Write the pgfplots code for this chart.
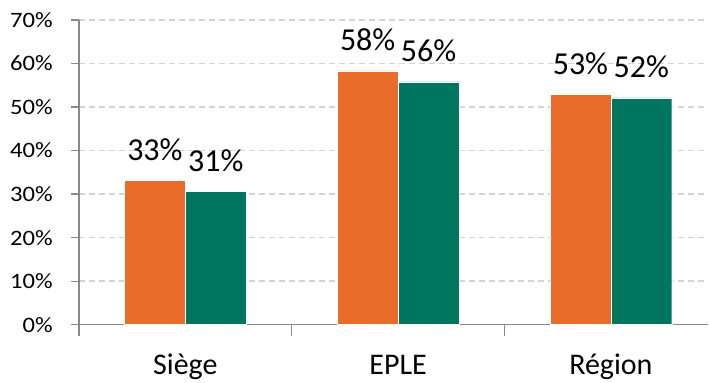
\documentclass[border=0pt]{standalone}
\usepackage{pgfplots}
\pgfplotsset{compat=1.18}
\usepackage{fontspec}
\setmainfont{Carlito}
\definecolor{barorange}{RGB}{234,108,43}
\definecolor{bargreen}{RGB}{0,117,96}
\definecolor{axisgray}{RGB}{137,137,137}
\definecolor{gridgray}{RGB}{212,212,212}
\begin{document}
\begin{tikzpicture}
\path (0,0) rectangle (709pt,383pt);
\begin{axis}[
  at={(79pt,58pt)}, anchor=south west,
  scale only axis, width=630pt, height=305pt,
  xmin=-0.5, xmax=2.458, ymin=0, ymax=70,
  axis lines=left,
  axis line style={-, draw=axisgray, line width=1.3pt},
  clip=false,
  ytick={0,10,20,30,40,50,60,70},
  yticklabels={0\%,10\%,20\%,30\%,40\%,50\%,60\%,70\%},
  yticklabel style={font=\fontsize{22}{26}\selectfont, anchor=east, inner sep=0pt, xshift=-18pt, xscale=1.12},
  ymajorgrids,
  grid style={dash pattern=on 6pt off 4pt, draw=gridgray, line width=1.4pt},
  tick align=outside,
  major tick length=8pt,
  minor tick length=11pt,
  ytick style={draw=axisgray, line width=1.3pt},
  xtick={0,1,2},
  xticklabels={Siège,EPLE,Région},
  xtick style={draw=none},
  minor xtick={-0.5,0.5,1.5},
  minor x tick style={draw=axisgray, line width=1.3pt},
  xticklabel style={font=\fontsize{30}{36}\selectfont, anchor=base, inner sep=0pt, yshift=-42pt},
  ybar, bar width=0.286,
  point meta=explicit symbolic,
  nodes near coords,
  every node near coord/.append style={font=\fontsize{32}{38}\selectfont, anchor=base, inner sep=0pt, yshift=20pt, text=black},
]
\addplot[fill=barorange, draw=white, line width=0.4pt, bar shift=-0.143]
  coordinates {(0,33.1) [33\%] (1,58.3) [58\%] (2,52.9) [53\%]};
\addplot[fill=bargreen, draw=white, line width=0.4pt, bar shift=0.143]
  coordinates {(0,30.6) [31\%] (1,55.8) [56\%] (2,52.1) [52\%]};
\end{axis}
\end{tikzpicture}
\end{document}
